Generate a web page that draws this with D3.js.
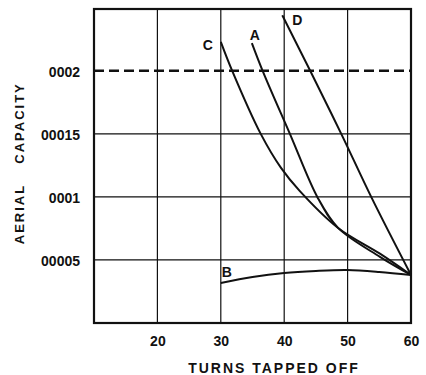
<!DOCTYPE html>
<html>
<head>
<meta charset="utf-8">
<script src="https://cdn.jsdelivr.net/npm/d3@7"></script>
<style>
  body { margin: 0; background: #fff; }
  svg { display: block; font-family: "Liberation Sans", Arial, sans-serif; }
</style>
</head>
<body>
<svg id="chart" width="426" height="375"></svg>
<script>
// curve data (turns tapped off vs aerial capacity)
const turnsA = [34.9, 36.6, 40.9, 45.3, 48.5, 55.1, 60];
const capA   = [0.000222, 0.0002, 0.00015, 0.0000992, 0.0000754, 0.0000525, 0.0000381];

const turnsB = [30, 35, 40, 45, 50, 55, 60];
const capB   = [0.0000317, 0.0000365, 0.0000397, 0.0000413, 0.000042, 0.0000405, 0.0000381];

const turnsC = [30.0, 31.8, 36.3, 39.5, 42.4, 48.5, 55.1, 60];
const capC   = [0.000223, 0.0002, 0.00015, 0.000123, 0.000105, 0.0000754, 0.000055, 0.0000381];

const turnsD = [39.7, 44.1, 49.0, 53.8, 60];
const capD   = [0.000244, 0.0002, 0.00015, 0.0000992, 0.0000381];

const xTicks = [20, 30, 40, 50, 60];
const yTicks = [0.0002, 0.00015, 0.0001, 0.00005];
const yTickLabels = ["0002", "00015", "0001", "00005"];
const dashedLevel = 0.0002;

let svg = d3.select('#chart');
let margin = { top: 9, right: 15, bottom: 52, left: 94 };
let width = 426, height = 375;

const x = d3.scaleLinear().domain([10, 60]).range([margin.left, width - margin.right]);
const y = d3.scaleLinear().domain([0, 0.000249]).range([height - margin.bottom, margin.top]);

// grid lines
let grid = svg.append('g').attr('class', 'grid');
grid.selectAll('line.v').data(xTicks.filter(d => d < 60))
    .join('line')
    .attr('x1', d => x(d)).attr('x2', d => x(d))
    .attr('y1', y(0)).attr('y2', y(0.000249))
    .attr('stroke', '#111').attr('stroke-width', 1.2);
grid.selectAll('line.h').data(yTicks.filter(d => d !== dashedLevel))
    .join('line')
    .attr('x1', x(10)).attr('x2', x(60))
    .attr('y1', d => y(d)).attr('y2', d => y(d))
    .attr('stroke', '#111').attr('stroke-width', 1.2);

// dashed line
svg.append('line')
    .attr('x1', x(10)).attr('x2', x(60))
    .attr('y1', y(dashedLevel)).attr('y2', y(dashedLevel))
    .attr('stroke', '#111').attr('stroke-width', 2.4)
    .attr('stroke-dasharray', '10,5');

// frame
svg.append('rect')
    .attr('x', x(10)).attr('y', y(0.000249))
    .attr('width', x(60) - x(10)).attr('height', y(0) - y(0.000249))
    .attr('fill', 'none').attr('stroke', '#111').attr('stroke-width', 2.2);

// axes (labels only)
let xAxis = svg.append('g')
    .attr('transform', 'translate(0,' + (y(0) + 10) + ')')
    .call(d3.axisBottom(x).tickValues(xTicks).tickSize(0).tickFormat(d3.format('d')));
let yAxis = svg.append('g')
    .attr('transform', 'translate(' + (x(10) - 11) + ',1)')
    .call(d3.axisLeft(y).tickValues(yTicks).tickSize(0).tickFormat((d, i) => yTickLabels[i]));
[xAxis, yAxis].forEach(a => {
    a.select('.domain').remove();
    a.selectAll('text')
        .attr('font-family', '"Liberation Sans", Arial, sans-serif')
        .attr('font-size', 14).attr('font-weight', 'bold').attr('fill', '#111');
});

// curves
const series = [
    { name: 'A', xs: turnsA, ys: capA },
    { name: 'B', xs: turnsB, ys: capB },
    { name: 'C', xs: turnsC, ys: capC },
    { name: 'D', xs: turnsD, ys: capD }
];
const line = d3.line().x(d => x(d[0])).y(d => y(d[1])).curve(d3.curveCatmullRom.alpha(0.5));
svg.append('g').selectAll('path').data(series)
    .join('path')
    .attr('d', s => line(s.xs.map((t, i) => [t, s.ys[i]])))
    .attr('fill', 'none').attr('stroke', '#111').attr('stroke-width', 2);

// curve labels next to each curve's first point
const labelOffset = { A: [3, -3], B: [6, -6], C: [-13, 8], D: [15, 10] };
svg.append('g').selectAll('text').data(series)
    .join('text')
    .attr('x', s => x(s.xs[0]) + labelOffset[s.name][0])
    .attr('y', s => y(s.ys[0]) + labelOffset[s.name][1])
    .attr('text-anchor', 'middle')
    .attr('font-size', 14).attr('font-weight', 'bold').attr('fill', '#111')
    .text(s => s.name);

// axis titles
svg.append('text')
    .attr('x', 274).attr('y', 373)
    .attr('text-anchor', 'middle')
    .attr('font-size', 14).attr('font-weight', 'bold').attr('letter-spacing', 2).attr('fill', '#111')
    .text('TURNS TAPPED OFF');
const yTitleWords = [{ t: 'CAPACITY', c: 123 }, { t: 'AERIAL', c: 214 }];
svg.append('g').selectAll('text').data(yTitleWords)
    .join('text')
    .attr('transform', d => 'translate(24,' + d.c + ') rotate(-90)')
    .attr('text-anchor', 'middle')
    .attr('font-size', 13).attr('font-weight', 'bold').attr('letter-spacing', 2).attr('fill', '#111')
    .text(d => d.t);
</script>
</body>
</html>
